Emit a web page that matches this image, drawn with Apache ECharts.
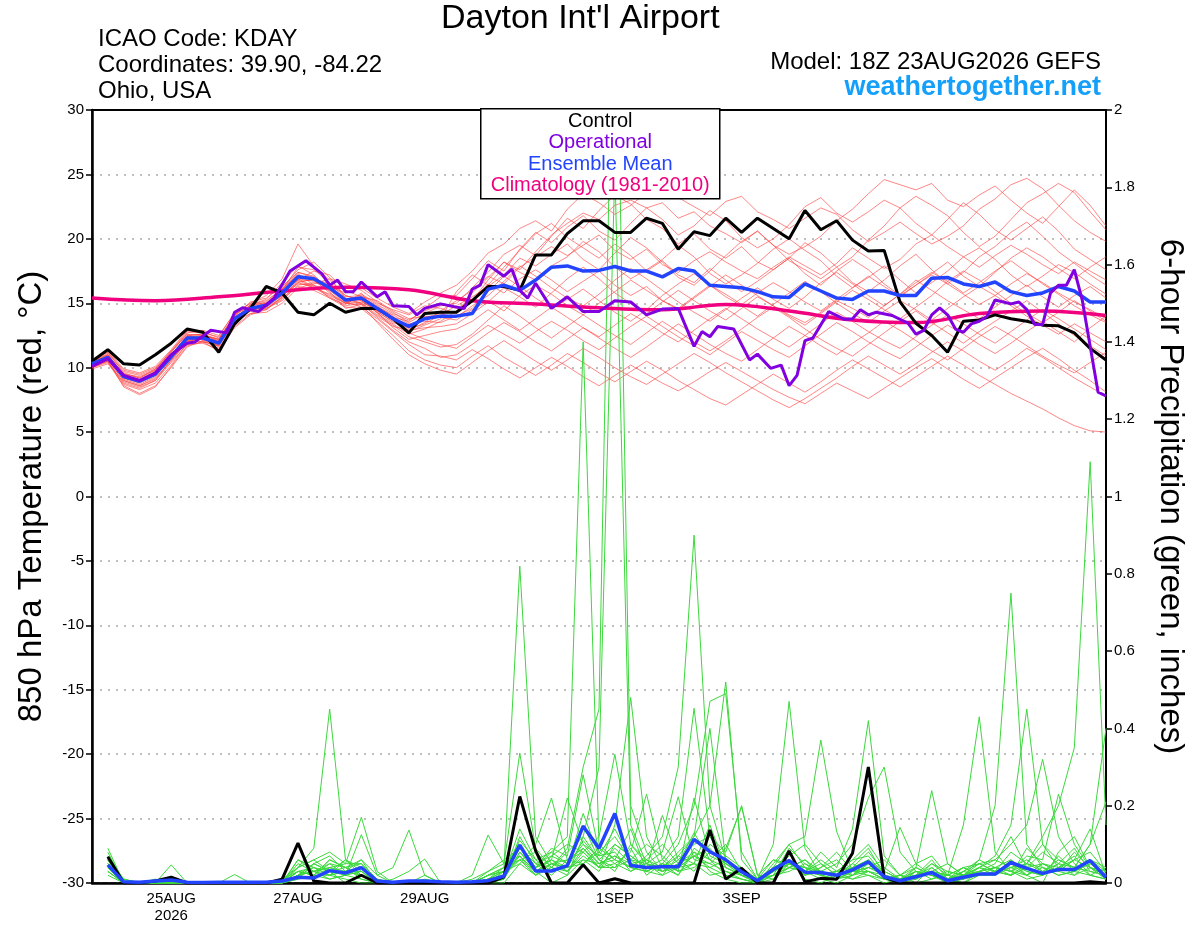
<!DOCTYPE html>
<html>
<head>
<meta charset="utf-8">
<title>Dayton Int'l Airport - GEFS</title>
<script src="https://cdn.jsdelivr.net/npm/echarts@6/dist/echarts.min.js"></script>
<style>html,body{margin:0;padding:0;background:#fff;}</style>
</head>
<body>
<div id="main" style="width:1200px;height:927px;"></div>
<script type="text/javascript">
var FONT = '"Liberation Sans", Arial, Helvetica, sans-serif';

// x axis: hours since 18Z 23AUG2026, labels at 00Z of every other day
var dayLabels = {30: '25AUG\n2026', 78: '27AUG', 126: '29AUG', 198: '1SEP', 246: '3SEP', 294: '5SEP', 342: '7SEP'};

// 850 hPa temperature, every 6 h from 0 to 384
var controlTemp = [10.5,11.4,10.3,10.2,11.0,11.9,13.0,12.75,11.2,13.4,14.6,16.3,15.8,14.3,14.1,15.0,14.3,14.6,14.6,13.8,12.7,14.2,14.3,
  14.3,15.2,16.3,16.3,16.0,18.75,18.75,20.4,21.4,21.4,20.5,20.5,21.6,21.2,19.2,20.55,20.25,21.6,20.5,21.6,20.8,20.0,22.2,20.7,21.4,19.9,
  19.05,19.1,15.1,13.45,12.5,11.2,13.6,13.7,14.1,13.8,13.6,13.3,13.25,12.7,11.5,10.6];
var meanTemp = [10.3,10.8,9.3,8.95,9.5,10.85,12.3,12.3,11.9,13.8,14.6,14.85,15.8,17.05,16.9,16.2,15.25,15.4,14.6,13.8,13.2,13.8,14.0,
  14.0,14.2,16.1,16.4,16.0,16.8,17.8,17.9,17.5,17.55,17.85,17.5,17.5,17.05,17.7,17.5,16.4,16.3,16.2,15.9,15.5,15.45,16.5,15.95,15.4,15.3,
  15.95,15.95,15.6,15.6,16.95,17.0,16.5,16.3,16.65,15.9,15.6,15.8,16.3,15.95,15.1,15.1];

// operational run (finer time steps)
var opHours = [0,6,12,18,24,30,36,39,45,51,54,57,63,69,75,81,87,90,93,96,99,102,108,111,114,120,123,126,132,138,
  141,144,147,150,156,159,162,165,168,174,180,186,192,198,204,210,216,222,228,231,234,237,243,249,252,257,261,264,267,270,
  273,279,285,288,291,294,297,303,309,312,315,318,321,324,327,330,333,336,339,342,348,351,354,357,360,363,366,369,372,375,381,384];
var opTemp = [10.1,10.7,9.4,9.0,9.6,11.0,11.9,12.0,12.9,12.7,14.3,14.65,14.35,15.4,17.5,18.3,17.3,16.4,16.8,15.9,15.9,16.65,15.5,15.9,14.8,14.75,14.1,14.6,14.95,14.7,
  14.6,16.1,16.4,18.0,17.1,17.65,16.0,15.4,16.55,14.6,15.5,14.35,14.35,15.2,15.1,14.1,14.55,14.6,11.65,12.8,12.4,13.2,13.0,10.6,11.05,9.95,10.2,8.6,9.4,12.1,
  12.3,14.35,13.75,13.8,14.5,14.1,14.3,14.05,13.45,12.6,12.9,14.1,14.65,14.1,13.0,12.75,13.4,13.6,14.0,15.25,14.95,15.1,14.5,13.35,13.35,15.8,16.4,16.4,17.6,15.25,8.1,7.8];

// climatology 1981-2010, daily
var climHours = [0,24,48,72,96,120,144,168,192,216,240,264,288,312,336,360,384];
var climTemp = [15.4,15.2,15.5,15.95,16.25,16.05,15.2,14.95,14.65,14.5,14.9,14.4,13.7,13.5,14.2,14.4,14.05];

// ensemble members, temperature
var memberTemp = [
  [10.0,10.6,9.0,8.6,9.2,10.5,12.0,12.4,11.6,13.5,14.9,15.3,16.6,17.9,17.2,16.0,15.0,15.8,14.2,13.4,12.6,13.0,13.6,
   14.4,15.2,16.8,18.2,17.6,19.0,20.3,21.2,22.0,21.5,22.6,23.0,22.4,22.8,21.6,22.1,21.0,20.4,19.7,20.6,19.5,18.8,19.4,20.2,21.4,22.3,23.5,24.6,24.2,23.8,24.3,23.0,22.5,23.4,24.1,23.0,22.0,21.2,22.5,23.8,22.6,21.0],
  [10.5,11.2,9.6,9.2,9.9,11.3,12.6,12.1,11.5,13.2,14.2,14.6,15.2,16.4,16.6,16.3,15.8,16.2,15.4,14.7,14.2,15.1,15.8,
   16.4,17.5,18.9,19.6,20.8,21.4,20.6,22.3,23.5,22.8,21.9,22.6,23.6,24.0,23.2,22.5,21.8,22.9,23.3,22.1,21.5,20.8,21.6,22.4,21.9,20.7,19.8,20.5,21.3,20.4,19.6,20.2,21.0,22.3,23.1,24.2,24.7,23.9,22.6,21.4,20.5,19.8],
  [10.2,10.5,8.7,8.3,8.8,10.2,11.9,12.5,12.2,14.1,15.0,15.6,16.9,19.6,17.9,16.8,15.6,15.2,14.4,13.9,13.6,14.6,15.5,
   15.6,16.9,18.3,17.5,19.2,20.5,19.7,20.9,21.8,20.6,19.9,21.2,22.4,21.5,20.3,21.0,22.2,21.4,20.1,19.3,20.0,21.1,22.5,23.2,22.0,21.3,22.1,23.0,22.4,21.2,20.3,21.5,22.8,21.9,20.7,19.9,20.8,21.7,20.6,19.2,18.4,17.6],
  [10.4,11.0,9.5,9.3,9.8,11.0,12.5,12.6,12.0,13.6,14.2,14.3,15.0,16.2,16.5,16.9,16.5,16.0,15.1,14.3,13.5,14.2,14.8,
   15.0,16.2,17.4,18.8,19.5,18.7,20.2,21.6,20.8,22.2,23.4,22.7,21.5,20.8,19.6,20.4,19.2,18.5,19.4,18.2,17.6,18.5,19.7,18.9,17.8,18.6,19.9,21.0,22.4,23.3,22.6,21.8,20.5,19.4,20.2,21.5,22.8,23.5,24.3,23.6,22.1,20.7],
  [10.1,10.7,9.2,8.8,9.4,10.9,12.4,12.2,11.7,14.0,15.1,15.4,16.3,17.4,17.0,15.9,14.6,14.9,14.0,13.2,12.9,13.5,14.4,
   15.2,16.0,17.1,16.5,17.8,18.6,19.4,18.7,19.5,20.3,19.1,18.4,19.2,18.0,17.4,18.3,19.0,18.2,17.5,16.9,17.8,18.6,17.9,17.2,18.1,19.3,18.5,17.7,18.4,19.6,20.3,19.4,18.6,17.8,18.7,19.5,18.8,18.0,17.3,18.2,17.5,16.8],
  [10.6,11.3,9.9,9.6,10.1,11.4,12.9,12.8,12.3,13.9,14.4,14.5,15.5,16.8,17.5,17.2,16.0,15.5,14.8,14.0,13.0,13.4,14.1,
   14.8,15.5,16.3,17.2,18.5,17.9,18.8,19.6,18.4,17.6,18.9,20.1,19.3,18.2,17.0,16.4,17.5,18.7,19.8,20.6,19.5,18.3,17.6,16.9,17.8,16.6,15.9,16.8,17.9,18.8,17.6,16.5,17.4,18.6,19.4,20.5,21.3,20.2,19.0,18.1,17.2,16.4],
  [9.9,10.3,8.9,8.5,9.0,10.4,11.8,11.9,11.4,13.3,14.6,15.0,16.0,17.3,16.4,15.4,14.9,15.7,15.0,14.5,14.1,14.8,14.6,
   14.2,15.8,17.0,18.2,17.4,16.8,17.9,18.6,19.8,19.0,17.8,16.9,17.6,18.4,19.5,18.6,17.3,16.5,17.2,18.1,19.2,20.0,19.1,18.3,17.1,16.2,17.0,17.9,16.8,15.8,16.6,17.5,18.6,19.3,18.4,17.2,16.3,17.1,18.0,17.4,16.5,15.7],
  [10.3,10.9,9.4,9.1,9.7,11.1,12.2,12.0,11.8,13.7,14.8,15.1,16.2,17.6,18.2,17.0,15.4,15.0,14.3,13.6,12.8,13.3,13.8,
   15.9,17.2,16.4,17.8,19.1,20.4,21.2,20.1,19.3,18.5,19.6,18.7,17.5,18.3,17.2,16.6,17.7,16.8,15.9,16.7,17.6,18.5,17.3,16.4,17.5,18.4,17.6,16.5,15.6,16.4,17.3,18.2,17.1,16.3,17.4,18.5,19.3,18.6,17.7,16.9,17.8,18.6],
  [10.2,10.8,9.1,8.7,9.3,10.7,12.1,12.3,12.1,13.9,14.5,14.7,15.6,16.9,16.7,16.1,15.5,15.6,14.9,14.2,13.7,14.4,14.9,
   14.6,15.3,16.5,15.8,16.9,17.6,16.8,15.9,16.7,17.5,16.4,15.6,16.3,15.2,14.6,15.5,16.4,15.7,14.9,15.8,16.6,15.9,15.1,14.4,15.3,16.2,17.1,16.3,15.5,16.4,17.2,16.5,15.7,14.9,15.6,16.5,17.3,16.6,15.8,15.1,14.5,13.8],
  [10.5,11.1,9.7,9.4,9.9,11.2,12.7,12.9,12.5,14.2,14.7,14.6,15.3,16.6,16.9,16.5,15.1,15.3,14.4,13.5,13.1,13.9,14.2,
   13.9,14.8,15.6,16.7,17.9,17.1,16.2,15.4,14.8,15.7,16.8,17.7,16.9,16.0,15.1,14.3,13.6,14.5,15.4,16.2,15.3,14.6,15.5,16.6,17.4,16.5,15.6,14.8,15.7,16.8,16.0,15.2,14.5,13.8,14.7,15.6,16.4,15.5,14.7,15.6,16.3,15.4],
  [10.0,10.4,8.6,8.0,8.6,10.0,11.6,12.1,11.9,13.8,14.9,15.2,16.1,17.2,16.8,15.8,15.0,15.1,14.5,13.7,12.9,13.1,13.2,
   13.4,14.2,15.1,16.2,15.5,14.7,15.8,16.9,17.8,16.9,15.8,15.0,14.2,15.1,16.0,15.2,14.4,13.7,14.6,15.5,14.8,14.0,13.3,14.2,15.1,16.0,15.3,14.5,13.8,14.7,15.6,16.7,17.5,16.8,15.9,15.0,14.2,13.5,14.3,15.2,14.4,13.6],
  [10.4,10.9,9.3,9.0,9.6,11.0,12.4,12.4,12.0,13.6,14.4,14.8,16.0,17.8,17.6,16.6,15.3,15.4,14.7,14.1,13.4,13.6,13.5,
   14.0,14.6,15.9,17.1,16.3,15.4,14.6,15.3,16.1,15.2,14.3,13.6,14.5,15.6,16.5,17.3,16.4,15.5,14.8,14.0,14.9,15.8,16.7,15.9,15.0,14.2,13.5,14.4,15.2,14.5,13.7,14.6,15.5,16.3,15.6,14.8,14.0,13.3,12.6,13.4,12.7,12.0],
  [10.3,10.7,9.2,8.9,9.5,10.8,12.2,12.2,11.8,13.8,14.7,14.9,15.7,16.9,16.3,15.6,15.0,15.5,15.2,14.4,13.8,14.0,13.9,
   13.7,14.5,15.2,14.4,15.6,16.4,15.7,14.8,14.1,15.0,15.9,16.8,16.0,15.2,14.5,15.4,16.3,17.2,16.4,15.6,14.8,14.1,13.5,14.3,15.2,14.6,13.9,14.8,15.7,16.6,17.4,16.7,15.8,16.6,17.5,18.3,17.4,16.5,15.7,14.8,14.1,13.5],
  [10.1,10.5,8.8,8.4,9.0,10.6,12.0,12.0,11.3,13.1,14.1,14.5,15.5,16.7,16.8,16.4,15.6,15.2,14.3,13.1,12.2,12.5,12.8,
   13.0,13.6,14.5,13.7,12.9,13.8,14.7,13.9,13.1,12.4,13.3,14.2,13.5,12.7,12.0,12.9,13.8,14.6,13.8,13.0,12.3,11.6,12.5,13.4,14.3,13.6,12.8,12.1,11.5,12.4,13.3,14.1,13.4,12.6,11.9,12.8,13.7,14.5,13.8,13.0,12.2,11.4],
  [10.6,11.2,9.8,9.5,10.0,11.3,12.8,12.7,12.4,14.3,15.0,15.0,15.9,16.8,16.2,15.5,14.8,15.0,14.1,13.3,12.4,12.0,11.6,
   11.8,12.6,13.7,14.8,14.0,13.1,12.3,13.2,14.1,13.3,12.5,11.8,12.7,13.6,12.8,12.0,11.3,12.1,13.0,13.9,14.7,13.9,13.0,12.2,11.5,10.9,11.8,12.7,13.6,14.4,13.5,12.7,11.9,12.8,13.6,14.4,15.2,14.3,13.4,12.5,11.7,10.9],
  [10.2,10.6,9.0,8.6,9.1,10.6,12.1,12.3,11.9,13.7,14.5,15.0,16.1,17.4,17.1,16.1,15.2,15.3,14.6,13.8,12.7,12.2,11.8,
   11.5,12.4,13.3,12.6,11.9,12.8,13.6,12.9,12.1,11.4,12.3,13.2,14.0,13.2,12.4,11.7,11.0,11.9,12.8,12.1,11.4,10.8,11.7,12.6,13.5,12.8,12.0,11.3,10.7,11.6,12.5,13.3,12.6,11.8,11.1,11.9,12.8,13.6,12.8,12.0,13.1,14.0],
  [10.4,11.0,9.4,9.0,9.5,10.9,12.5,12.6,12.2,14.0,14.6,14.9,15.6,16.5,16.4,16.0,15.3,15.0,13.9,12.9,12.0,11.5,10.8,
   11.0,11.8,12.7,13.5,12.8,12.0,11.3,12.2,13.1,12.3,11.5,10.8,11.6,12.5,13.4,12.6,11.8,11.1,10.5,11.4,12.3,13.2,12.5,11.7,11.0,11.9,12.7,13.6,12.9,12.1,11.3,10.6,11.5,12.4,13.2,12.5,11.7,10.9,10.2,9.6,10.4,11.2],
  [10.0,10.5,8.5,7.9,8.5,10.1,11.7,12.0,11.7,13.6,14.4,14.7,15.4,16.3,16.0,15.4,14.7,14.6,13.6,12.5,11.3,10.6,10.2,
   10.0,10.9,11.7,10.8,10.1,9.4,10.2,11.1,10.4,9.6,8.9,9.7,10.5,9.8,9.0,8.3,7.6,7.1,7.9,8.7,9.5,8.8,8.1,8.9,9.8,10.6,9.9,9.2,8.5,9.3,10.1,10.9,10.2,9.4,8.7,8.0,7.4,6.8,6.1,5.5,5.1,5.0],
  [10.3,10.8,9.2,8.9,9.6,11.0,12.4,12.5,12.2,14.1,14.8,15.0,15.8,17.0,17.0,16.2,15.1,14.7,13.8,12.8,11.8,11.0,10.9,
   10.6,11.4,10.7,9.9,9.2,10.0,10.8,10.1,9.3,8.6,9.4,10.2,9.5,8.8,8.2,8.9,9.7,10.4,9.7,9.0,8.3,7.7,7.2,8.0,8.8,8.2,7.6,8.4,9.2,10.0,10.7,9.9,9.1,8.4,9.2,10.0,10.8,11.5,10.7,9.8,9.0,8.1],
  [10.5,11.0,9.5,9.2,9.8,11.2,12.6,12.5,12.1,13.9,14.6,14.8,15.6,16.6,16.2,15.7,15.0,14.9,13.5,12.2,11.0,10.3,9.8,
   9.5,10.4,11.3,12.1,11.3,10.5,9.8,10.6,11.5,10.8,10.0,9.3,8.7,9.5,10.3,11.1,10.4,9.6,8.9,8.2,7.5,6.9,7.6,8.4,9.2,10.1,10.9,10.2,9.5,10.3,11.2,12.0,11.3,10.5,9.8,10.6,11.5,10.8,10.0,9.2,8.5,7.8]
];

// 6-hour precipitation, every 6 h from 6 to 384
var controlPrecip = [0.068,0,0,0.005,0.015,0,0,0, 0,0,0,0.01,0.103,0.005,0,0, 0.02,0,0,0,0,0,0,0, 0,0.016,0.224,0.083,0,0,0.047,0,
  0.011,0,0,0,0,0,0.137,0.01, 0.038,0,0,0.083,0.003,0.012,0.01,0.077, 0.3,0.015,0,0,0,0,0,0, 0,0,0,0,0,0,0.003,0];
var meanPrecip = [0.047,0.003,0.002,0.005,0.008,0.002,0.001,0.002, 0.002,0.002,0.002,0.005,0.015,0.013,0.032,0.026,
  0.04,0.005,0.002,0.005,0.005,0.003,0.002,0.003, 0.006,0.018,0.098,0.031,0.031,0.045,0.147,0.09,
  0.18,0.045,0.04,0.042,0.042,0.113,0.081,0.06, 0.029,0.006,0.035,0.058,0.028,0.027,0.02,0.034,
  0.055,0.016,0.006,0.016,0.027,0.006,0.015,0.023, 0.023,0.053,0.038,0.025,0.035,0.035,0.058,0.015];
var memberPrecip = [
  [.06,0,0,0,0,0,0,0, 0,0,0,0,.02,.05,.03,0, .02,0,0,0,0,0,0,0, 0,.01,.08,.03,0,.02,.12,.3, 1.85,.15,.05,.02,.07,.12,.40,.06, .02,0,.03,.08,.01,0,.02,.05, .09,.02,0,0,.04,.01,0,.03, .05,.12,.04,.02,.07,.03,.05,.02],
  [.04,.01,0,0,0,0,0,0, 0,0,0,0,.03,.02,.06,.04, .01,0,0,0,0,0,0,0, 0,0,.05,.10,.22,.06,.09,.04, .15,.48,.12,.04,.02,.08,.03,.01, 0,0,.02,.05,.03,.01,0,.02, .06,.01,0,.03,.02,0,.01,.04, .02,.06,.02,0,.08,.12,.04,.01],
  [.08,0,0,0,.01,0,0,0, 0,0,0,.01,.04,.09,.45,.06, .03,0,0,0,0,0,0,0, 0,.02,.14,.06,.03,.04,.18,.07, .08,.03,.06,.10,.05,.13,.06,.02, .01,0,.05,.10,.04,.02,.01,.03, .03,.01,.02,.05,.07,.02,.15,.43, .08,.03,.01,.02,.04,.07,.02,.01],
  [.05,0,0,.005,0,0,0,0, 0,0,0,0,.06,.04,.02,.01, 0,0,0,0,0,0,0,.01, .03,.05,.336,.09,.04,.02,.06,.03, .10,.07,.04,.03,.06,.10,.12,.08, .20,.02,.01,.04,.06,.03,.02,.01, .02,0,.01,.02,.06,.01,0,.02, .04,.02,.09,.05,.03,.06,.14,.02],
  [.03,0,0,0,0,0,0,0, 0,0,0,0,.02,.01,.04,.03, .06,.02,.04,.137,.02,0,0,0, .02,.04,.06,.02,.07,.05,.15,.06, .04,.09,.02,.05,.03,.22,.07,.05, .03,.01,.04,.06,.02,.04,.08,.03, .05,.02,0,.04,.02,0,.03,.06, .20,.75,.10,.04,.02,.03,.06,.01],
  [.07,.01,0,0,0,0,0,0, 0,0,0,0,.05,.03,.01,.02, .04,0,0,0,0,0,0,0, .01,.03,.10,.04,.08,.12,1.40,.10, .06,.14,.03,.02,.04,.05,.02,.03, .01,0,.02,.09,.05,.03,.01,.02, .04,.06,.02,0,.01,.03,.02,.05, .03,.08,.05,.10,.06,.04,.10,.40],
  [.05,0,0,0,0,0,0,0, 0,0,0,0,.04,.06,.08,.05, .17,.03,0,0,0,0,0,0, 0,.01,.12,.05,.02,.06,.05,.08, .12,.06,.10,.07,.03,.05,.15,.04, .02,.01,.06,.05,.03,.08,.04,.14, .42,.07,.02,.01,.03,.02,.01,.03, .02,.04,.06,.03,.05,.09,.03,.02],
  [.04,0,0,.01,0,0,0,0, 0,0,0,.01,.03,.04,.02,.06, .02,0,0,0,.02,0,0,0, .01,.02,.09,.04,.06,.22,.10,.05, .07,.04,.03,.05,.02,.09,.06,.10, .03,0,.03,.07,.10,.05,.02,.04, .08,.03,.01,.02,.05,.03,.02,.04, .06,.10,.15,.32,.12,.05,.02,.04],
  [.02,0,0,0,0,0,0,0, 0,0,0,0,.01,.02,.05,.04, .05,.01,0,0,0,0,0,.02, .124,.05,.07,.03,.05,.04,.11,.06, .03,.10,.06,.04,.08,.12,.20,.52, .06,.01,.02,.04,.03,.06,.03,.02, .05,.02,0,.03,.01,.02,.04,.02, .03,.02,.04,.08,.05,.02,.06,.03],
  [.06,0,0,0,0,0,0,0, 0,0,0,0,.02,.03,.04,.02, .03,0,0,0,0,0,0,0, 0,.02,.06,.08,.04,.09,.30,.45, 2.6,.20,.08,.03,.05,.07,.04,.02, .01,0,.01,.05,.04,.02,.03,.06, .07,.02,.01,.03,.02,.01,.02,.03, .04,.03,.02,.05,.03,.08,.04,.01],
  [.09,0,0,0,.047,0,0,0, .022,0,0,0,.02,.05,.03,.02, .125,.02,0,0,.01,0,0,0, .02,.03,.05,.02,.04,.03,.08,.04, .05,.08,.23,.06,.03,.04,.08,.05, .02,.01,.10,.47,.09,.02,.03,.01, .03,.01,.02,.01,.03,.02,.04,.05, .03,.02,.05,.04,.02,.03,.05,.02],
  [.05,.01,0,0,0,0,0,0, 0,0,0,0,.03,.02,.02,.03, .02,0,0,0,0,0,0,0, .01,.04,.82,.12,.05,.03,.07,.04, .09,.05,.04,.175,.06,.03,.10,.07, .04,.01,.02,.04,.06,.02,.01,.03, .02,.01,0,.02,.04,.01,.02,.06, .04,.03,.07,.06,.23,.10,.04,.02],
  [.03,0,0,0,0,0,0,0, 0,0,0,0,.02,.04,.03,.04, .06,0,0,0,0,0,0,0, .03,.06,.09,.05,.07,.10,.08,.12, .333,.10,.05,.08,.223,.06,.05,.03, .02,0,.04,.06,.03,.05,.02,.03, .04,.03,.01,.02,.03,.01,.02,.04, .07,.15,.45,.10,.04,.03,.02,.01],
  [.04,0,0,0,0,0,0,0, 0,0,0,0,.06,.03,.05,.02, .04,0,0,0,0,0,0,0, 0,.02,.07,.03,.06,.04,.05,.09, .06,.04,.07,.12,.30,.90,.20,.06, .03,.01,.03,.05,.04,.03,.02,.05, .03,.02,0,.01,.05,.02,.01,.02, .02,.05,.03,.02,.04,.06,.08,.03],
  [.06,0,0,0,0,0,0,0, 0,0,0,0,.01,.05,.07,.03, .03,0,0,0,0,0,0,0, .02,.04,.10,.04,.09,.07,.28,.08, .05,.03,.05,.04,.07,.05,.04,.06, .02,0,.03,.05,.02,.04,.06,.02, .03,.01,.02,.04,.02,.01,.03,.05, .06,.04,.05,.12,.20,.35,1.09,.15],
  [.07,.005,0,0,0,0,0,0, 0,0,0,0,.02,.03,.04,.05, .05,0,0,0,0,0,0,0, 0,.03,.11,.06,.08,.05,.10,.07, .14,.06,.03,.05,.04,.07,.09,.04, .02,.01,.04,.10,.12,.37,.133,.03, .05,.02,.01,.03,.02,.01,.04,.02, .03,.02,.04,.05,.03,.02,.04,.03],
  [.05,0,0,0,0,0,0,0, 0,0,0,0,.03,.02,.06,.04, .02,0,.01,.03,.062,0,0,0, 0,.02,.09,.05,.04,.08,.12,.06, .10,.07,.04,.06,.12,.452,.12,.05, .02,0,.02,.03,.05,.02,.03,.06, .10,.04,.01,.02,.03,.05,.02,.03, .04,.06,.03,.02,.05,.04,.03,.02],
  [.03,0,0,0,0,0,0,0, 0,0,0,0,.04,.06,.03,.06, .04,.01,0,0,0,0,0,0, .01,.03,.06,.03,.05,.04,.06,.05, .07,.05,.06,.03,.05,.08,.06,.04, .02,.01,.03,.06,.02,.03,.05,.10, .22,.30,.08,.03,.02,.01,.03,.02, .03,.05,.02,.04,.03,.06,.04,.02],
  [.04,0,0,0,0,0,0,0, 0,0,0,0,.02,.03,.02,.03, .02,0,0,0,0,0,0,0, 0,.01,.08,.04,.06,.03,.09,.05, .06,.04,.03,.05,.10,.20,.47,.49, .08,.01,.03,.05,.04,.02,.03,.04, .06,.03,.144,.05,.02,.01,.02,.03, .04,.03,.05,.03,.06,.04,.10,.21],
  [.06,0,0,0,0,0,0,0, 0,0,0,0,.03,.02,.01,.02, .01,0,0,0,0,0,0,0, .02,.03,.07,.02,.05,.06,.08,.04, .04,.06,.05,.03,.04,.07,.05,.09, .197,.02,.06,.04,.03,.02,.01,.03, .04,.02,.01,.04,.239,.05,.02,.04, .03,.04,.02,.05,.04,.03,.06,.04]
];

// time steps (6-hourly grid)
var hours = [];
for (var k = 0; k <= 64; k++) hours.push(k * 6);
var precipHours = hours.slice(1);

function pairs(xs, ys) {
    return ys.map(function (v, i) { return [xs[i], v]; });
}

function line(data, axis, color, width, z, extra) {
    var s = {
        type: 'line', yAxisIndex: axis, data: data, symbol: 'none', showSymbol: false,
        silent: true, z: z, lineStyle: {color: color, width: width}
    };
    for (var key in extra) s[key] = extra[key];
    return s;
}

var series = [];
memberTemp.forEach(function (m) {
    series.push(line(pairs(hours, m), 0, 'rgba(255,60,60,0.62)', 1, 2));
});
memberPrecip.forEach(function (m) {
    series.push(line(pairs(precipHours, m), 1, '#3cd83c', 1, 2));
});
series.push(line(pairs(climHours, climTemp), 0, '#f0007f', 3.5, 3, {smooth: 0.4}));
series.push(line(pairs(hours, controlTemp), 0, '#000000', 3, 4));
series.push(line(pairs(precipHours, controlPrecip), 1, '#000000', 3, 4));
series.push(line(pairs(hours, meanTemp), 0, '#2244ff', 3.5, 5));
series.push(line(pairs(precipHours, meanPrecip), 1, '#2244ff', 3.5, 5));
series.push(line(pairs(opHours, opTemp), 0, '#8000e0', 3, 6));

var chart = echarts.init(document.getElementById('main'));
var option = {
    animation: false,
    backgroundColor: '#ffffff',
    textStyle: {fontFamily: FONT},
    grid: {left: 92, right: 94, top: 110, bottom: 44, show: true, borderColor: '#000', borderWidth: 1.5},
    xAxis: [{
        type: 'value', min: 0, max: 384, interval: 6, position: 'bottom',
        axisLine: {show: true, onZero: false, lineStyle: {color: '#000', width: 2.5}},
        axisTick: {show: false},
        splitLine: {show: false},
        axisLabel: {
            color: '#000', fontSize: 15, fontFamily: FONT, margin: 7, lineHeight: 17,
            formatter: function (v) { return dayLabels[v] || ''; }
        }
    }, {
        // plain top border of the frame
        type: 'value', min: 0, max: 384, position: 'top',
        axisLine: {show: true, onZero: false, lineStyle: {color: '#000', width: 2}},
        axisTick: {show: false}, axisLabel: {show: false}, splitLine: {show: false}
    }],
    yAxis: [{
        type: 'value', min: -30, max: 30, interval: 5, position: 'left',
        name: '850 hPa Temperature (red, \u00b0C)', nameLocation: 'middle', nameGap: 44,
        nameTextStyle: {color: '#000', fontSize: 33, fontFamily: FONT},
        axisLine: {show: true, onZero: false, lineStyle: {color: '#000', width: 2.5}},
        axisTick: {show: true, length: 6, lineStyle: {color: '#000', width: 1.5}},
        axisLabel: {color: '#000', fontSize: 15, fontFamily: FONT, margin: 8},
        splitLine: {show: true, lineStyle: {color: '#aaaaaa', width: 1.5, type: [2, 6]}}
    }, {
        type: 'value', min: 0, max: 2, interval: 0.2, position: 'right',
        name: '6-hour Precipitation (green, inches)', nameLocation: 'middle', nameGap: 48, nameRotate: -90,
        nameTextStyle: {color: '#000', fontSize: 33, fontFamily: FONT},
        axisLine: {show: true, onZero: false, lineStyle: {color: '#000', width: 2}},
        axisTick: {show: true, length: 6, lineStyle: {color: '#000', width: 1.5}},
        axisLabel: {color: '#000', fontSize: 15, fontFamily: FONT, margin: 8},
        splitLine: {show: false}
    }],
    graphic: [
        {type: 'text', left: 441, top: 2, style: {text: "Dayton Int'l Airport", fill: '#000', font: '34px ' + FONT}, z: 100},
        {type: 'text', left: 98, top: 27, style: {text: 'ICAO Code: KDAY', fill: '#000', font: '24px ' + FONT}, z: 100},
        {type: 'text', left: 98, top: 53, style: {text: 'Coordinates: 39.90, -84.22', fill: '#000', font: '24px ' + FONT}, z: 100},
        {type: 'text', left: 98, top: 79, style: {text: 'Ohio, USA', fill: '#000', font: '24px ' + FONT}, z: 100},
        {type: 'text', right: 99, top: 50, style: {text: 'Model: 18Z 23AUG2026 GEFS', fill: '#000', font: '24px ' + FONT}, z: 100},
        {type: 'text', right: 99, top: 74, style: {text: 'weathertogether.net', fill: '#14a0fa', font: 'bold 27px ' + FONT}, z: 100},
        {
            type: 'group', left: 480, top: 108, z: 100,
            children: [
                {type: 'rect', shape: {x: 0, y: 0, width: 239, height: 90}, style: {fill: '#fff', stroke: '#000', lineWidth: 1.5}, z: 100},
                {type: 'text', x: 119.5, y: 13, style: {text: 'Control', fill: '#000', font: '20px ' + FONT, textAlign: 'center', textVerticalAlign: 'middle'}, z: 101},
                {type: 'text', x: 119.5, y: 34, style: {text: 'Operational', fill: '#8000e0', font: '20px ' + FONT, textAlign: 'center', textVerticalAlign: 'middle'}, z: 101},
                {type: 'text', x: 119.5, y: 55.5, style: {text: 'Ensemble Mean', fill: '#2244ff', font: '20px ' + FONT, textAlign: 'center', textVerticalAlign: 'middle'}, z: 101},
                {type: 'text', x: 119.5, y: 77, style: {text: 'Climatology (1981-2010)', fill: '#f0007f', font: '20px ' + FONT, textAlign: 'center', textVerticalAlign: 'middle'}, z: 101}
            ]
        }
    ],
    series: series
};
chart.setOption(option);
</script>
</body>
</html>
